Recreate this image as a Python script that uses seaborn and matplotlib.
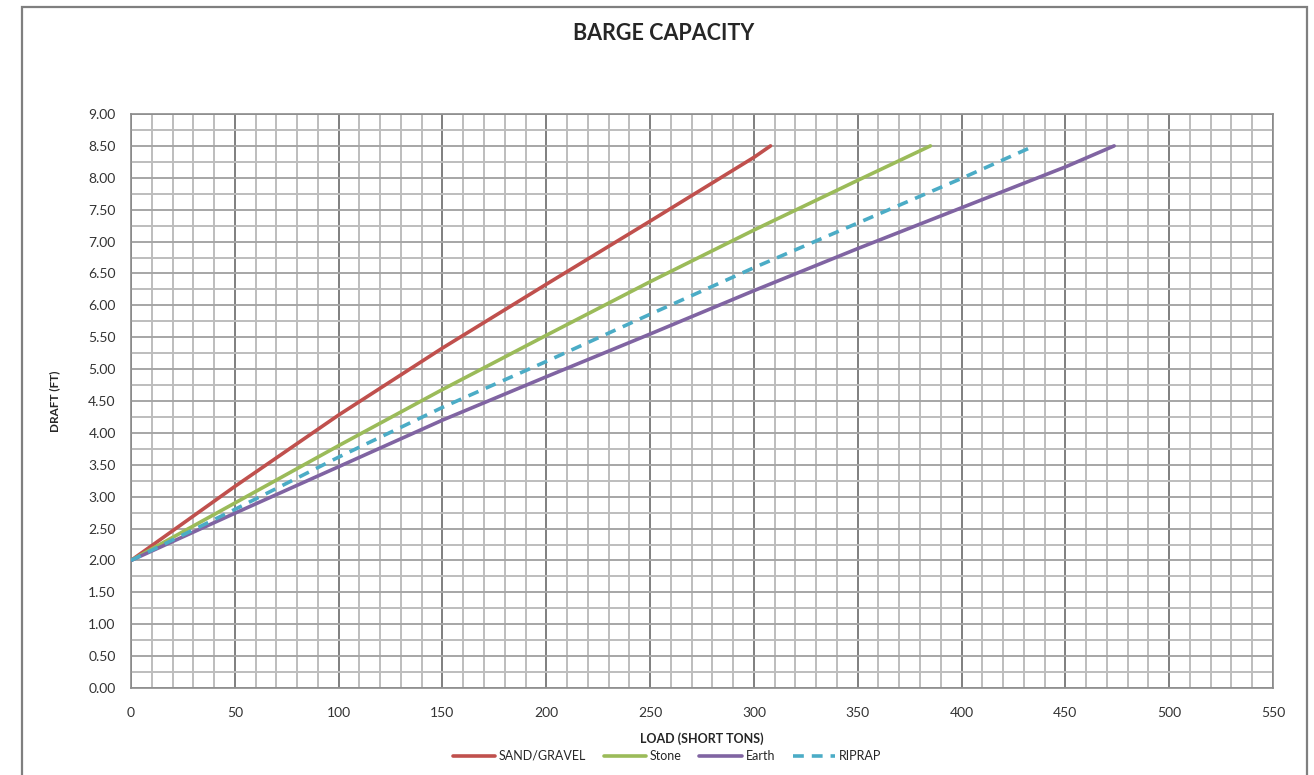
import pandas as pd
import matplotlib.pyplot as plt
import seaborn as sns
import numpy as np
from matplotlib.patches import Rectangle
from matplotlib.ticker import MultipleLocator

# load (short tons) vs draft (ft)
sand_load = [0, 50, 100, 150, 200, 250, 300, 308]
sand_draft = [2.00, 3.16, 4.28, 5.33, 6.33, 7.32, 8.32, 8.50]

stone_load = [0, 50, 100, 150, 200, 250, 300, 350, 385]
stone_draft = [2.00, 2.90, 3.80, 4.68, 5.53, 6.37, 7.18, 7.96, 8.50]

earth_load = [0, 50, 100, 150, 200, 250, 300, 350, 400, 450, 473.5]
earth_draft = [2.00, 2.74, 3.47, 4.20, 4.88, 5.55, 6.23, 6.89, 7.53, 8.17, 8.50]

riprap_load = [0, 50, 100, 150, 200, 250, 300, 350, 400, 435]
riprap_draft = [2.00, 2.80, 3.62, 4.40, 5.12, 5.86, 6.59, 7.29, 7.99, 8.50]

series = ['SAND/GRAVEL', 'Stone', 'Earth', 'RIPRAP']
colors = ['#C0504D', '#9BBB59', '#8064A2', '#4BACC6']

frames = []
for name, xs, ys in zip(series,
                        [sand_load, stone_load, earth_load, riprap_load],
                        [sand_draft, stone_draft, earth_draft, riprap_draft]):
    frames.append(pd.DataFrame({'Load': xs, 'Draft': ys, 'Material': name}))
df = pd.concat(frames, ignore_index=True)

sns.set_style('white')
plt.rcParams['font.family'] = ['Lato', 'DejaVu Sans']

fig = plt.figure(figsize=(13.14, 7.75), dpi=100)
ax = fig.add_axes([131/1314, 1 - 688/775, (1273 - 131)/1314, (688 - 114)/775])

sns.lineplot(data=df, x='Load', y='Draft', hue='Material', style='Material',
             hue_order=series, style_order=series,
             palette=dict(zip(series, colors)),
             dashes={'SAND/GRAVEL': '', 'Stone': '', 'Earth': '', 'RIPRAP': (3, 2.2)},
             linewidth=2.6, sort=False, estimator=None, ax=ax, zorder=3)

ax.set_xlim(0, 550)
ax.set_ylim(0, 9)
ax.xaxis.set_major_locator(MultipleLocator(50))
ax.xaxis.set_minor_locator(MultipleLocator(10))
ax.yaxis.set_major_locator(MultipleLocator(0.5))
ax.yaxis.set_minor_locator(MultipleLocator(0.25))
ax.yaxis.set_major_formatter(plt.FormatStrFormatter('%.2f'))

ax.grid(which='minor', axis='both', color='#BDBDBD', linewidth=1.4)
ax.grid(which='major', axis='y', color='#A6A6A6', linewidth=1.4)
ax.grid(which='major', axis='x', color='#7F7F7F', linewidth=1.4)
ax.set_axisbelow(True)

ax.tick_params(axis='both', which='major', direction='out', length=5, width=1,
               color='#808080', labelsize=10, labelcolor='#333333')
ax.tick_params(axis='x', which='major', pad=9)
ax.tick_params(axis='y', which='major', pad=6)
ax.tick_params(axis='both', which='minor', length=0)
for s in ax.spines.values():
    s.set_color('#8C8C8C')
    s.set_linewidth(1.2)

ax.set_xlabel('LOAD (SHORT TONS)', fontsize=9, fontweight='bold', labelpad=9)
ax.set_ylabel('DRAFT (FT)', fontsize=8.5, fontweight='bold', labelpad=20)
fig.text(0.5053, 0.957, 'BARGE CAPACITY', ha='center', va='center',
         fontsize=15.5, fontweight='bold')

handles, labels = ax.get_legend_handles_labels()
ax.legend(handles, labels, loc='center', bbox_to_anchor=(667/1314, 1 - 756/775),
          bbox_transform=fig.transFigure, ncol=4, frameon=False, fontsize=9,
          handlelength=3.4, columnspacing=1.4, handletextpad=0.3,
          borderpad=0, borderaxespad=0)

fig.patches.append(Rectangle((22/1314, -0.05), (1307 - 22)/1314, 0.05 + 1 - 7/775,
                             transform=fig.transFigure, fill=False,
                             edgecolor='#7F7F7F', linewidth=1.6))

fig.savefig('out.png', dpi=100)
